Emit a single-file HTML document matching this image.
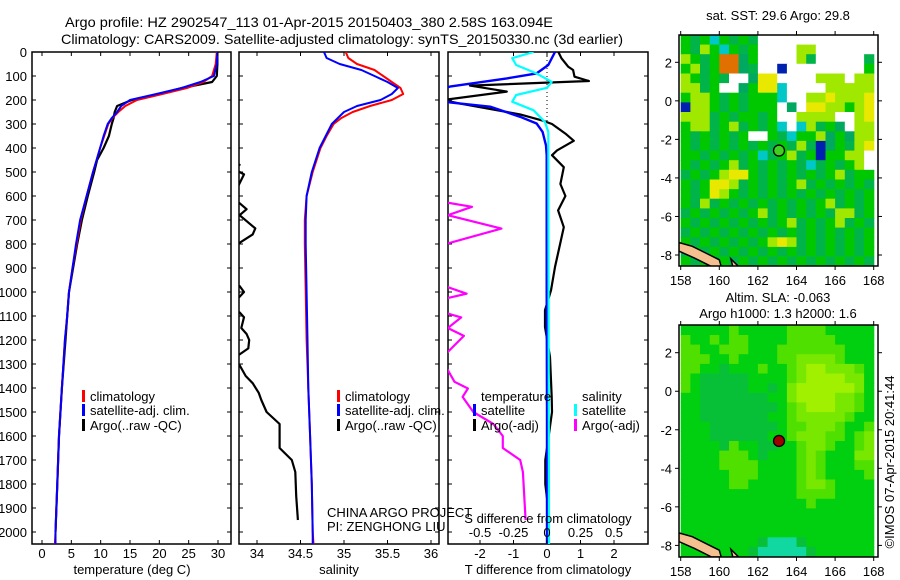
<!DOCTYPE html>
<html><head><meta charset="utf-8"><style>
html,body{margin:0;padding:0;background:#fff;}
svg{display:block;font-family:"Liberation Sans",sans-serif;}
</style></head><body>
<svg id="fig" width="900" height="580" viewBox="0 0 900 580" xmlns="http://www.w3.org/2000/svg">
<defs>
<clipPath id="c1"><rect x="32" y="52" width="199" height="492"/></clipPath>
<clipPath id="c2"><rect x="239" y="52" width="200" height="492"/></clipPath>
<clipPath id="c3"><rect x="448" y="52" width="200" height="492"/></clipPath>
<clipPath id="cm1"><rect x="679" y="35" width="199" height="231"/></clipPath>
<clipPath id="cm2"><rect x="679" y="325" width="199" height="232"/></clipPath>
</defs>
<text x="309" y="27" font-size="14" text-anchor="middle" textLength="488" lengthAdjust="spacingAndGlyphs">Argo profile: HZ 2902547_113 01-Apr-2015 20150403_380 2.58S 163.094E</text>
<text x="342" y="44" font-size="14" text-anchor="middle" textLength="562" lengthAdjust="spacingAndGlyphs">Climatology: CARS2009. Satellite-adjusted climatology: synTS_20150330.nc (3d earlier)</text>
<g id="layer"></g>
</svg>
<script>
// ---- depth axis data ----
const depthTicks = [0,100,200,300,400,500,600,700,800,900,1000,1100,1200,1300,1400,1500,1600,1700,1800,1900,2000];
// temperature panel
const tDepth = [0,50,100,125,150,175,200,225,250,275,300,350,400,450,500,600,700,800,900,1000,1100,1200,1400,1600,1800,2000,2050];
const tClim  = [29.8,29.6,29.0,27.5,24.7,20.5,16.2,14.2,13.0,12.0,11.3,10.6,9.9,9.3,8.7,7.6,6.6,5.9,5.2,4.6,4.3,3.9,3.4,2.9,2.6,2.3,2.2];
const tSat   = [29.9,29.8,29.3,27.0,23.8,19.5,15.0,13.5,12.8,11.9,11.2,10.5,9.9,9.3,8.7,7.6,6.5,5.8,5.2,4.6,4.3,3.9,3.4,2.9,2.6,2.3,2.3];
const tArgo  = [29.9,29.9,29.8,29.0,23.9,20.0,15.3,12.8,12.4,12.2,11.9,11.4,10.5,9.4,8.9,7.8,6.8,6.0,5.3,4.6,4.3,4.0,3.4,2.9,2.6,2.3,null];
const tTicks = [0,5,10,15,20,25,30];
// salinity panel
const sDepth = [0,25,50,75,100,125,150,175,200,225,250,275,300,350,400,500,600,700,800,1000,1200,1400,1600,1800,2000,2050];
const sClim  = [35.02,35.05,35.15,35.35,35.45,35.55,35.65,35.68,35.55,35.3,35.1,34.97,34.88,34.8,34.73,34.64,34.57,34.55,34.55,34.56,34.57,34.59,34.61,34.63,34.64,34.65];
const sSat   = [34.77,34.8,34.95,35.2,35.35,35.5,35.62,35.55,35.42,35.15,35.0,34.93,34.86,34.79,34.72,34.63,34.57,34.56,34.56,34.57,34.58,34.59,34.61,34.63,34.64,34.64];
const sArgoDepth = [460,470,480,500,510,620,630,655,680,735,760,795,800,965,975,1000,1020,1030,1075,1085,1105,1150,1175,1200,1235,1260,1270,1295,1305,1350,1380,1420,1450,1500,1550,1650,1700,1750,1850,1950];
const sArgo      = [33.70,33.8,33.7,33.8,33.85,33.7,33.8,33.88,33.8,33.98,33.95,33.8,33.7,33.7,33.8,33.85,33.8,33.7,33.7,33.8,33.85,33.82,33.88,33.91,33.9,33.8,33.7,33.7,33.8,33.87,33.95,34.02,34.05,34.11,34.26,34.26,34.4,34.44,34.45,34.47];
const sTicks = [34,34.5,35,35.5,36];
// difference panel
const dtDepth = [0,54,89,110,144,175,210,228,270,298,333,389,431,600,1000,1500,2050];
const dtSat   = [0.24,0.04,-0.31,-1.2,-2.9,-3.6,-2.9,-1.7,-0.8,-0.31,-0.13,-0.03,-0.01,-0.01,-0.01,0,0];
const daDepth = [0,26,61,75,103,121,140,165,200,215,260,285,300,340,370,410,430,480,550,600,660,730,800,896,993,1076,1146,1271,1437,1500,1600,1700,1800,1860];
const dtArgo  = [0.34,0.43,0.63,0.78,0.82,1.25,-2.3,-1.2,-3.1,-2.6,-0.8,-0.15,0.15,0.55,0.8,0.3,0.15,0.5,0.4,0.55,0.33,0.5,0.39,0.24,0.12,-0.06,-0.06,0.09,0.14,0.15,0.05,-0.05,-0.05,0];
const dsDepth = [0,26,54,89,124,149,179,207,243,292,333,1000,2050];
const dsSat   = [-0.1,-0.26,-0.23,-0.08,0.035,0,-0.23,-0.26,-0.1,-0.015,0.01,0.012,0.015];
const dmDepth = [600,628,645,680,736,799,830,960,980,1007,1025,1060,1090,1106,1150,1183,1250,1290,1325,1374,1402,1437,1500,1550,1600,1650,1700,1750,1950];
const dsArgo  = [-0.9,-0.74,-0.56,-0.74,-0.34,-0.75,-0.9,-0.9,-0.74,-0.6,-0.74,-0.9,-0.74,-0.64,-0.74,-0.62,-0.74,-0.9,-0.74,-0.69,-0.59,-0.63,-0.55,-0.4,-0.33,-0.33,-0.2,-0.18,-0.16];
const dTTicks = [-2,-1,0,1,2];
const dSTicks = [-0.5,-0.25,0,0.25,0.5];
const dSTickLabels = ["-0.5","-0.25","0","0.25","0.5"];
// maps
const lonTicks = [158,160,162,164,166,168];
const latTicks = [2,0,-2,-4,-6,-8];
const floatLon = 163.094, floatLat = -2.58;
const sstRows = [
"gGgcgGgGwwwwwwwwwwww","gGygcgGgwwwwyywwwwww","ygGgoodgwwwwyGwwwwwG","gyGgoodGwwbwwwwwwwwg",
"ygGgGwwdYYwwwwyyywyy","yyGgwwdgYYcwwwwyyyyy","gyygGgGgggcwwyyYyyyY","byygGgGgggwdwYYyygyY",
"yyyGgGggGgwwyyyywwyY","gyyGgyGgGgcwcyGgdwyy","gGgGgGgwwgGcggydgdyy","gGgGgGgGgGgGyGbdgGyY",
"ggGgGgGgcGgyGgbggyyw","gGgGgyGgGgGgGcGgGgyw","GgGgyYYgGgGgGgGgyGgg","gGgYYyGgGgGgyGgGgGgG",
"gGgYygGgGgGgGgGgGgGg","gGyGgGgGgGgGgGgyGgGg","GgGgGgGgyGgGgGgGyyGg","gGgGgGgGgGgyGgGgyGgG",
"GgGgGgGgGgGgGgGgGgGg","gGgGgGgGgyYyGgGgGgGg","GgGgGgGgGgGgGgGgGgGg","gGgGgGgGgGgGgGgGgGgG"];
const slaRows = [
"ggggglgggggllllggggg","lgglgllgggglllllgggg","llgglllggglllllllggg","lllgglggggllLLLLlggg",
"llggdggglgglLyyLLLlg","lgdddddgggglLyyyyLLg","lgdddddggdgLyyyyyyLg","ggdddddddggLyyyyLLlg",
"ggddddddddglLyyyLLlg","ggdddddddgglLLLLLlgg","gggdddddddgllLLLlggl","gggddddddgglLLLllglL",
"ggggdlggddgglLLlgglL","gggglllgdggglLlgggLL","ggggllllgggglLlgggll","ggggglllgggglLlggggl",
"gggggllggggglLLlgggg","ggggggggggggllllgggg","ggggggggggggglgggggg","gggggggggggggggggggg",
"gggggggggggggggggggg","gggggggggggggggggggg","ggggggggdtttdggggggg","gggggggdtttttdgggggg"];
const sstColors = {g:"#00c800",G:"#00b44a",y:"#a0e800",Y:"#e8e800",c:"#00c8c8",b:"#0020b0",o:"#e07000",d:"#00a860",w:"#ffffff"};
const slaColors = {g:"#00d010",d:"#08c038",l:"#50e000",L:"#78e800",y:"#a0f000",t:"#10d8a0"};

const NS="http://www.w3.org/2000/svg";
const layer=document.getElementById('layer');
function mk(tag,attrs,parent){const e=document.createElementNS(NS,tag);for(const k in attrs)e.setAttribute(k,attrs[k]);(parent||layer).appendChild(e);return e;}
function txt(x,y,s,size,anchor,parent){const t=mk('text',{x:x,y:y,'font-size':size,'text-anchor':anchor||'middle'},parent);t.textContent=s;return t;}

const yTop=52, pxPerM=0.24, yBot=544;
function yD(d){return yTop+d*pxPerM;}
function linScale(v0,p0,v1,p1){return v=>p0+(v-v0)*(p1-p0)/(v1-v0);}

const panels=[
 {x0:32,x1:231,clip:'c1',name:'temperature-panel'},
 {x0:239,x1:439,clip:'c2',name:'salinity-panel'},
 {x0:448,x1:648,clip:'c3',name:'difference-panel'}];
const xT=linScale(0,42,30,218);
const xS=linScale(34,257,36,431);
const xDT=linScale(0,547,1,580.5);
const xDS=linScale(0,547,1,681);

panels.forEach((p,i)=>{
  const g=mk('g',{});
  
  
  p.g=g;
  const r=mk('rect',{x:p.x0,y:yTop,width:p.x1-p.x0,height:yBot-yTop,fill:'none',stroke:'#000','stroke-width':1.5},g);
  
  
  depthTicks.forEach(d=>{
    mk('line',{x1:p.x0,x2:p.x0+4,y1:yD(d),y2:yD(d),stroke:'#000'},g);
    mk('line',{x1:p.x1-4,x2:p.x1,y1:yD(d),y2:yD(d),stroke:'#000'},g);
  });
});
// depth labels
const dl=mk('g',{});


depthTicks.forEach(d=>{txt(27,yD(d)+5,String(d),13,'end',dl);});

function drawLine(xs,ds,vals,color,w,clip,name){
  let dstr='',pen=false;
  for(let i=0;i<ds.length;i++){
    if(vals[i]===null||vals[i]===undefined){pen=false;continue;}
    dstr+=(pen?'L':'M')+xs(vals[i]).toFixed(1)+' '+yD(ds[i]).toFixed(1)+' ';pen=true;
  }
  const p=mk('path',{d:dstr,fill:'none',stroke:color,'stroke-width':w,'clip-path':'url(#'+clip+')','stroke-linejoin':'round'});
  
  
  return p;
}
// panel 1
drawLine(xT,tDepth,tArgo,'#000',2.2,'c1','temp-argo-line');
drawLine(xT,tDepth,tClim,'#f00',2,'c1','temp-climatology-line');
drawLine(xT,tDepth,tSat,'#00f',2,'c1','temp-satellite-line');
tTicks.forEach(v=>{const x=xT(v);mk('line',{x1:x,x2:x,y1:yBot,y2:yBot-4,stroke:'#000'});mk('line',{x1:x,x2:x,y1:yTop,y2:yTop+4,stroke:'#000'});txt(x,558,String(v),13);});
const t1=txt(132,574,'temperature (deg C)',13);
// panel 2
drawLine(xS,sArgoDepth,sArgo,'#000',2.2,'c2','sal-argo-line');
drawLine(xS,sDepth,sClim,'#f00',2,'c2','sal-climatology-line');
drawLine(xS,sDepth,sSat,'#00f',2,'c2','sal-satellite-line');
sTicks.forEach(v=>{const x=xS(v);mk('line',{x1:x,x2:x,y1:yBot,y2:yBot-4,stroke:'#000'});mk('line',{x1:x,x2:x,y1:yTop,y2:yTop+4,stroke:'#000'});txt(x,558,String(v),13);});
const t2=txt(339,574,'salinity',13);
// panel 3
mk('line',{x1:xDT(0),x2:xDT(0),y1:yTop,y2:yD(300),stroke:'#000','stroke-dasharray':'1,3'});
drawLine(xDS,dmDepth,dsArgo,'#f0f',2.2,'c3','sal-diff-argo-line');
drawLine(xDT,daDepth,dtArgo,'#000',2.2,'c3','temp-diff-argo-line');
drawLine(xDT,dtDepth,dtSat,'#00f',2.4,'c3','temp-diff-satellite-line');
drawLine(xDS,dsDepth,dsSat,'#0ff',2.2,'c3','sal-diff-satellite-line');
dTTicks.forEach(v=>{const x=xDT(v);mk('line',{x1:x,x2:x,y1:yBot,y2:yBot-4,stroke:'#000'});mk('line',{x1:x,x2:x,y1:yTop,y2:yTop+4,stroke:'#000'});txt(x,558,String(v),13);});
dSTicks.forEach((v,i)=>{txt(xDS(v),537,dSTickLabels[i],13);});
const t3=txt(548,574,'T difference from climatology',13);
const t4=txt(548,523,'S difference from climatology',13);

// legends
function legend(x,y,color,label,name){
  const g=mk('g',{});
  
  
  if(color) mk('rect',{x:x,y:y-11,width:3,height:12,fill:color},g);
  txt(x+8,y,label,13,'start',g);
}
legend(82,401,'#f00','climatology','legend-t-climatology');
legend(82,415,'#00f','satellite-adj. clim.','legend-t-satellite');
legend(82,430,'#000','Argo(..raw -QC)','legend-t-argo');
legend(337,401,'#f00','climatology','legend-s-climatology');
legend(337,415,'#00f','satellite-adj. clim.','legend-s-satellite');
legend(337,430,'#000','Argo(..raw -QC)','legend-s-argo');
legend(473,401,null,'temperature','legend-temperature-header');
legend(473,415,'#00f','satellite','legend-dt-satellite');
legend(473,430,'#000','Argo(-adj)','legend-dt-argo');
legend(574,401,null,'salinity','legend-salinity-header');
legend(574,415,'#0ff','satellite','legend-ds-satellite');
legend(574,430,'#f0f','Argo(-adj)','legend-ds-argo');
const c1t=txt(327,517,'CHINA ARGO PROJECT',13,'start');
const c2t=txt(327,531,'PI: ZENGHONG LIU',13,'start');

// maps
const xLon=linScale(158,680.7,168,873.7);
function drawMap(rows,colors,yLat,clip,yT,yB,name,titles,titleYs,markerFill,labelY){
  const g=mk('g',{});
  
  
  const latTop=3.42, cell=0.5;
  rows.forEach((row,ri)=>{
    for(let ci=0;ci<row.length;ci++){
      const c=colors[row[ci]]||colors.g;
      const lon0=158+ci*cell, lat0=latTop-ri*cell;
      const x=xLon(lon0), y=yLat(lat0);
      const cl=mk('rect',{x:x.toFixed(1),y:y.toFixed(1),width:(xLon(lon0+cell)-x+0.6).toFixed(1),height:(yLat(lat0-cell)-y+0.6).toFixed(1),fill:c,'clip-path':'url(#'+clip+')'},g);
      
      
    }
  });
  // land
  const land=[[157.9,-7.35],[158.6,-7.55],[159.4,-7.95],[160,-8.25],[160.1,-8.6],[159.6,-8.6],[158.7,-8.15],[157.9,-7.8]];
  const ld=mk('path',{d:'M'+land.map(p=>xLon(p[0]).toFixed(1)+' '+yLat(p[1]).toFixed(1)).join(' L')+'Z',fill:'#f4c090',stroke:'#000','stroke-width':1.5,'clip-path':'url(#'+clip+')'},g);
  
  
  const ld2=mk('path',{d:'M'+xLon(160.6)+' '+yLat(-8.2)+' L'+xLon(161)+' '+yLat(-8.6)+' L'+xLon(160.7)+' '+yLat(-8.6)+'Z',fill:'#f4c090',stroke:'#000','stroke-width':1.5,'clip-path':'url(#'+clip+')'},g);
  
  
  const fr=mk('rect',{x:679,y:yT,width:199,height:yB-yT,fill:'none',stroke:'#000','stroke-width':1.5},g);
  
  
  lonTicks.forEach(v=>{const x=xLon(v);mk('line',{x1:x,x2:x,y1:yB,y2:yB+4,stroke:'#000'},g);mk('line',{x1:x,x2:x,y1:yT,y2:yT-4,stroke:'#000'},g);txt(x,labelY,String(v),13,'middle',g);});
  latTicks.forEach(v=>{const y=yLat(v);mk('line',{x1:679,x2:675,y1:y,y2:y,stroke:'#000'},g);mk('line',{x1:878,x2:882,y1:y,y2:y,stroke:'#000'},g);txt(672,y+5,String(v),13,'end',g);});
  const mkr=mk('circle',{cx:xLon(floatLon),cy:yLat(floatLat),r:5.5,fill:markerFill,stroke:'#000','stroke-width':1.3},g);
  
  
  titles.forEach((t,i)=>{const tt=txt(778,titleYs[i],t,13,'middle',g);});
}
drawMap(sstRows,sstColors,linScale(2,62.3,-8,255),'cm1',35,266,'sst-map',['sat. SST: 29.6 Argo: 29.8'],[20],'#40d020',285);
drawMap(slaRows,slaColors,linScale(2,352.7,-8,545.4),'cm2',325,557,'sla-map',['Altim. SLA: -0.063','Argo h1000: 1.3 h2000: 1.6'],[302,318],'#a00000',576);
const cp=mk('text',{x:0,y:0,'font-size':13,'text-anchor':'middle',transform:'translate(894,462) rotate(-90)'});
cp.textContent='©IMOS 07-Apr-2015 20:41:44';


</script>
</body></html>
